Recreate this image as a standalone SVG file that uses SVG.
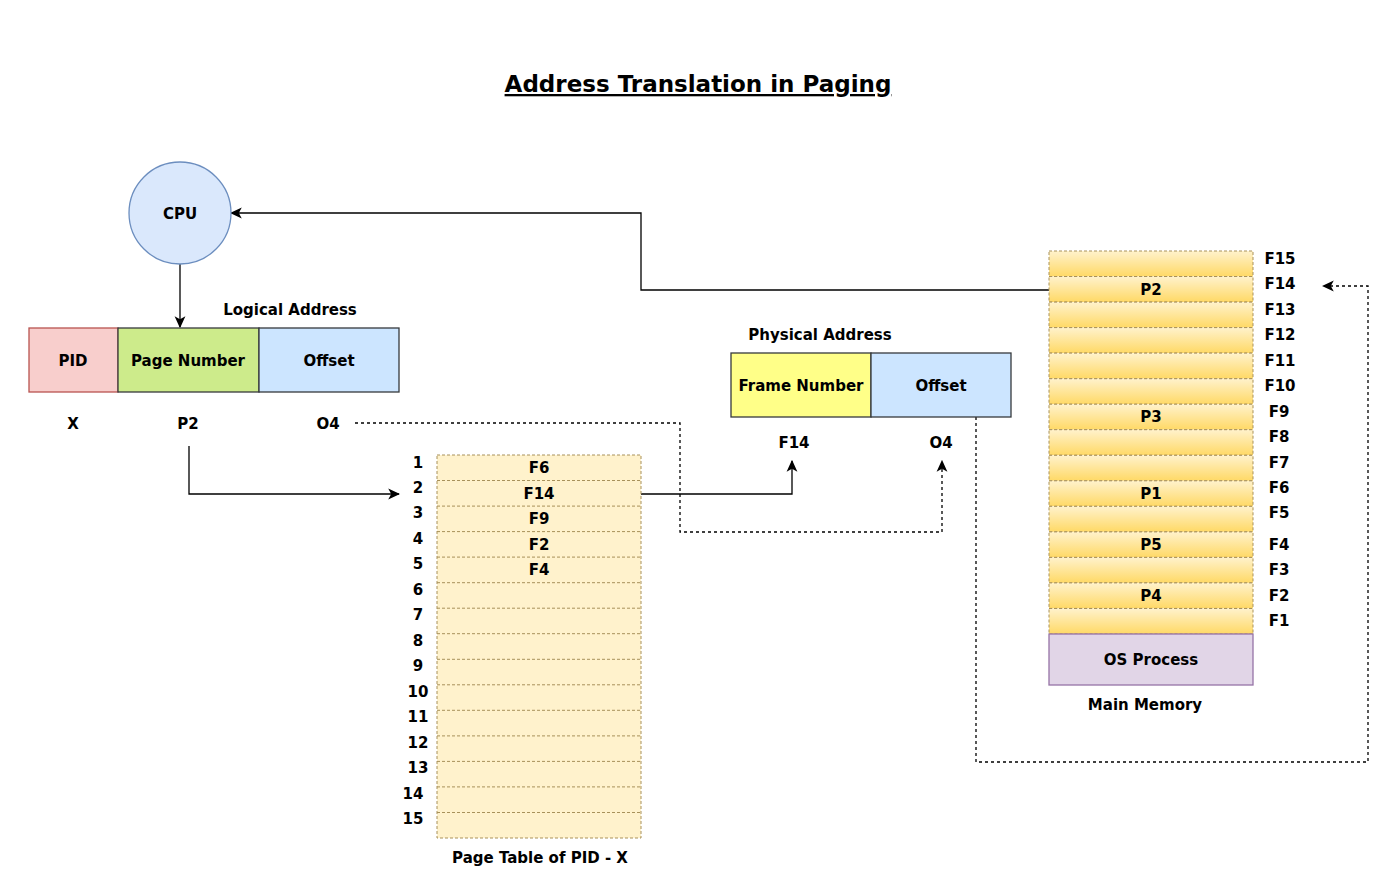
<svg xmlns="http://www.w3.org/2000/svg" width="1399" height="894" viewBox="0 0 1399 894">
<style>
text{font-family:"DejaVu Sans","Liberation Sans",sans-serif;font-weight:bold;font-size:15px;fill:#000;text-anchor:middle}
.title{font-size:23px;text-decoration:underline}
.blk{stroke:#36393d;stroke-width:1.3}
.row{fill:url(#g);stroke:#a8915a;stroke-width:1;stroke-dasharray:3 2}
.pt{fill:#fff2cc;stroke:#a8915a;stroke-width:1;stroke-dasharray:3 2}
.c{fill:none;stroke:#000;stroke-width:1.3}
.d{fill:none;stroke:#000;stroke-width:1.3;stroke-dasharray:3 3}
</style>
<defs>
<linearGradient id="g" x1="0" y1="0" x2="0" y2="1">
<stop offset="0" stop-color="#fff2cc"/><stop offset="1" stop-color="#ffd966"/>
</linearGradient>
<marker id="a" viewBox="0 0 10 10" refX="9" refY="5" markerWidth="12" markerHeight="12" markerUnits="userSpaceOnUse" orient="auto">
<path d="M0,0.5 L10,5 L0,9.5 L2.5,5 Z" fill="#000"/>
</marker>
</defs>
<rect width="1399" height="894" fill="#fff"/>
<text class="title" x="698" y="92">Address Translation in Paging</text>

<g id="connectors">
<path class="c" d="M180,264 V327" marker-end="url(#a)"/>
<path class="c" d="M189,446 V494 H399" marker-end="url(#a)"/>
<path class="c" d="M641,494 H792 V461" marker-end="url(#a)"/>
<path class="d" d="M355,423 H680 V532 H942 V461" marker-end="url(#a)"/>
<path class="d" d="M976,417 V762 H1368 V286 H1323" marker-end="url(#a)"/>
<path class="c" d="M1049,290 H641 V213 H231" marker-end="url(#a)"/>
</g>

<g id="cpu">
<circle cx="180" cy="213" r="51" fill="#dae8fc" stroke="#6c8ebf" stroke-width="1.3"/>
<text x="180" y="219">CPU</text>
</g>

<g id="logical-address">
<text x="290" y="315">Logical Address</text>
<rect x="29" y="328" width="89" height="64" fill="#f8cecc" stroke="#b85450" stroke-width="1.3"/>
<rect class="blk" x="118" y="328" width="141" height="64" fill="#cdeb8b"/>
<rect class="blk" x="259" y="328" width="140" height="64" fill="#cce5ff"/>
<text x="73" y="366">PID</text>
<text x="188" y="366">Page Number</text>
<text x="329" y="366">Offset</text>
<text x="73" y="429">X</text>
<text x="188" y="429">P2</text>
<text x="328" y="429">O4</text>
</g>

<g id="page-table">
<rect class="pt" x="437" y="455" width="204" height="383"/>
<g fill="none" stroke="#a8915a" stroke-width="1" stroke-dasharray="3 2">
<path d="M437,480.5H641M437,506.1H641M437,531.6H641M437,557.1H641M437,582.7H641M437,608.2H641M437,633.7H641M437,659.3H641M437,684.8H641M437,710.3H641M437,735.9H641M437,761.4H641M437,786.9H641M437,812.5H641"/>
</g>
<text x="539" y="473">F6</text>
<text x="539" y="499">F14</text>
<text x="539" y="524">F9</text>
<text x="539" y="550">F2</text>
<text x="539" y="575">F4</text>
<text x="418" y="468">1</text>
<text x="418" y="493">2</text>
<text x="418" y="518">3</text>
<text x="418" y="544">4</text>
<text x="418" y="569">5</text>
<text x="418" y="595">6</text>
<text x="418" y="620">7</text>
<text x="418" y="646">8</text>
<text x="418" y="671">9</text>
<text x="418" y="697">10</text>
<text x="418" y="722">11</text>
<text x="418" y="748">12</text>
<text x="418" y="773">13</text>
<text x="413" y="799">14</text>
<text x="413" y="824">15</text>
<text x="540" y="863">Page Table of PID - X</text>
</g>

<g id="physical-address">
<text x="820" y="340">Physical Address</text>
<rect class="blk" x="731" y="353" width="140" height="64" fill="#ffff88"/>
<rect class="blk" x="871" y="353" width="140" height="64" fill="#cce5ff"/>
<text x="801" y="391">Frame Number</text>
<text x="941" y="391">Offset</text>
<text x="794" y="448">F14</text>
<text x="941" y="448">O4</text>
</g>

<g id="main-memory">
<rect class="row" x="1049" y="251" width="204" height="25.5"/>
<rect class="row" x="1049" y="276.5" width="204" height="25.5"/>
<rect class="row" x="1049" y="302.1" width="204" height="25.5"/>
<rect class="row" x="1049" y="327.6" width="204" height="25.5"/>
<rect class="row" x="1049" y="353.1" width="204" height="25.5"/>
<rect class="row" x="1049" y="378.7" width="204" height="25.5"/>
<rect class="row" x="1049" y="404.2" width="204" height="25.5"/>
<rect class="row" x="1049" y="429.7" width="204" height="25.5"/>
<rect class="row" x="1049" y="455.3" width="204" height="25.5"/>
<rect class="row" x="1049" y="480.8" width="204" height="25.5"/>
<rect class="row" x="1049" y="506.3" width="204" height="25.5"/>
<rect class="row" x="1049" y="531.9" width="204" height="25.5"/>
<rect class="row" x="1049" y="557.4" width="204" height="25.5"/>
<rect class="row" x="1049" y="582.9" width="204" height="25.5"/>
<rect class="row" x="1049" y="608.5" width="204" height="25.5"/>
<rect x="1049" y="634" width="204" height="51" fill="#e1d5e7" stroke="#9673a6" stroke-width="1.3"/>
<text x="1151" y="295">P2</text>
<text x="1151" y="422">P3</text>
<text x="1151" y="499">P1</text>
<text x="1151" y="550">P5</text>
<text x="1151" y="601">P4</text>
<text x="1151" y="665">OS Process</text>
<text x="1145" y="710">Main Memory</text>
<text x="1280" y="264">F15</text>
<text x="1280" y="289">F14</text>
<text x="1280" y="315">F13</text>
<text x="1280" y="340">F12</text>
<text x="1280" y="366">F11</text>
<text x="1280" y="391">F10</text>
<text x="1279" y="417">F9</text>
<text x="1279" y="442">F8</text>
<text x="1279" y="468">F7</text>
<text x="1279" y="493">F6</text>
<text x="1279" y="518">F5</text>
<text x="1279" y="550">F4</text>
<text x="1279" y="575">F3</text>
<text x="1279" y="601">F2</text>
<text x="1279" y="626">F1</text>
</g>
</svg>
